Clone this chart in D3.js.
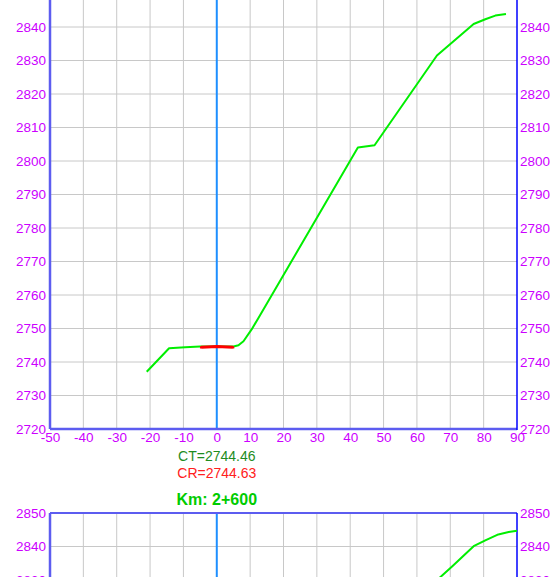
<!DOCTYPE html>
<html>
<head>
<meta charset="utf-8">
<script src="https://cdn.jsdelivr.net/npm/d3@7"></script>
<style>
  html, body { margin: 0; padding: 0; background: #fff; }
  svg { display: block; }
  text { font-family: "Liberation Sans", Arial, sans-serif; }
</style>
</head>
<body>
<svg id="chart" width="550" height="577"></svg>
<script>
// ---------- data ----------
const xTicks = [-50, -40, -30, -20, -10, 0, 10, 20, 30, 40, 50, 60, 70, 80, 90];
const yTicks = [2720, 2730, 2740, 2750, 2760, 2770, 2780, 2790, 2800, 2810, 2820, 2830, 2840, 2850];

// section 1 ground profile (offset, elevation)
const groundOffsets1 = [-21.0, -14.3, -9.5, -5, 0, 5, 6.5, 8, 10.5, 12.4, 42.3, 47.3, 66, 77, 80.5, 83.5, 86.7];
const groundElev1    = [2737.1, 2744.1, 2744.4, 2744.6, 2744.6, 2744.6, 2745.0, 2746.2, 2749.8, 2753.0, 2804.0, 2804.7, 2831.5, 2840.9, 2842.3, 2843.4, 2843.9];
// section 1 road template (red)
const roadOffsets1 = [-4.6, -4.6, 0, 4.8, 4.8];
const roadElev1    = [2744.0, 2744.4, 2744.63, 2744.4, 2744.0];
const ctLabel1 = "CT=2744.46";
const crLabel1 = "CR=2744.63";

// section 2 (Km 2+600) – visible part of ground profile
const title2 = "Km: 2+600";
const groundOffsets2 = [62, 65.4, 70.7, 77.0, 80.5, 84.4, 87.5, 90];
const groundElev2    = [2825.5, 2829.4, 2834.2, 2840.1, 2841.8, 2843.6, 2844.3, 2844.7];

// ---------- layout ----------
const svg = d3.select("#chart");
const X0 = 50, X1 = 517;
const x = d3.scaleLinear().domain([-50, 90]).range([X0, X1]);

const labelColor = "#cc00ff";
const gridColor = "#c8c8c8";
const fmt = d => String(d);

function drawSection(yBottom, yTop, ground, road) {
  const y = d3.scaleLinear().domain([2720, 2850]).range([yBottom, yTop]);
  const g = svg.append("g");

  // grid
  g.selectAll(".vg").data(xTicks.filter(d => d !== 0 && d !== -50 && d !== 90)).join("line")
    .attr("x1", d => x(d)).attr("x2", d => x(d))
    .attr("y1", y(2720)).attr("y2", y(2850))
    .attr("stroke", gridColor).attr("stroke-width", 1);
  g.selectAll(".hg").data(yTicks.filter(d => d !== 2720 && d !== 2850)).join("line")
    .attr("x1", X0).attr("x2", X1)
    .attr("y1", d => y(d)).attr("y2", d => y(d))
    .attr("stroke", gridColor).attr("stroke-width", 1);

  // centre line
  g.append("line").attr("x1", x(0)).attr("x2", x(0))
    .attr("y1", y(2720)).attr("y2", y(2850))
    .attr("stroke", "#1e8fff").attr("stroke-width", 2);

  // frame
  g.append("line").attr("x1", X0).attr("x2", X1).attr("y1", y(2850)).attr("y2", y(2850))
    .attr("stroke", "#5c5cf0").attr("stroke-width", 2);
  g.append("line").attr("x1", X0).attr("x2", X1).attr("y1", y(2720)).attr("y2", y(2720))
    .attr("stroke", "#5c5cf0").attr("stroke-width", 2.5);
  g.append("line").attr("x1", X0).attr("x2", X0).attr("y1", y(2720)).attr("y2", y(2850))
    .attr("stroke", "#5c5cf0").attr("stroke-width", 2.5);
  g.append("line").attr("x1", X1).attr("x2", X1).attr("y1", y(2720) + 1).attr("y2", y(2850))
    .attr("stroke", "#0000ff").attr("stroke-width", 1.5);

  // axes (labels only)
  const axL = g.append("g").attr("transform", `translate(${X0},0)`)
    .call(d3.axisLeft(y).tickValues(yTicks).tickSize(0).tickPadding(4).tickFormat(fmt));
  const axR = g.append("g").attr("transform", `translate(${X1},0)`)
    .call(d3.axisRight(y).tickValues(yTicks).tickSize(0).tickPadding(3).tickFormat(fmt));
  const axB = g.append("g").attr("transform", `translate(0,${y(2720)})`)
    .call(d3.axisBottom(x).tickValues(xTicks).tickSize(0).tickPadding(3.2).tickFormat(fmt));
  [axL, axR, axB].forEach(a => {
    a.select(".domain").remove();
    a.selectAll("text").attr("fill", labelColor).attr("font-size", 13.5)
      .attr("font-family", "Liberation Sans, Arial, sans-serif");
  });

  const line = d3.line().x(d => x(d[0])).y(d => y(d[1]));
  g.append("path").datum(d3.zip(ground[0], ground[1]))
    .attr("d", line).attr("fill", "none").attr("stroke", "#00ee00")
    .attr("stroke-width", 2).attr("stroke-linejoin", "round");
  if (road) {
    g.append("path").datum(d3.zip(road[0], road[1]))
      .attr("d", line).attr("fill", "none").attr("stroke", "#ff0000")
      .attr("stroke-width", 3).attr("stroke-linejoin", "round");
  }
  return y;
}

drawSection(429, -6.5, [groundOffsets1, groundElev1], [roadOffsets1, roadElev1]);

svg.append("text").attr("x", x(0)).attr("y", 460.5).attr("text-anchor", "middle")
  .attr("font-size", 14).attr("fill", "#1e8c1e").text(ctLabel1);
svg.append("text").attr("x", x(0)).attr("y", 477.7).attr("text-anchor", "middle")
  .attr("font-size", 14).attr("fill", "#ff2020").text(crLabel1);

svg.append("text").attr("x", x(0)).attr("y", 505).attr("text-anchor", "middle")
  .attr("font-size", 16).attr("font-weight", "bold").attr("fill", "#00cc00").text(title2);

drawSection(948.5, 513, [groundOffsets2, groundElev2], null);
</script>
</body>
</html>
